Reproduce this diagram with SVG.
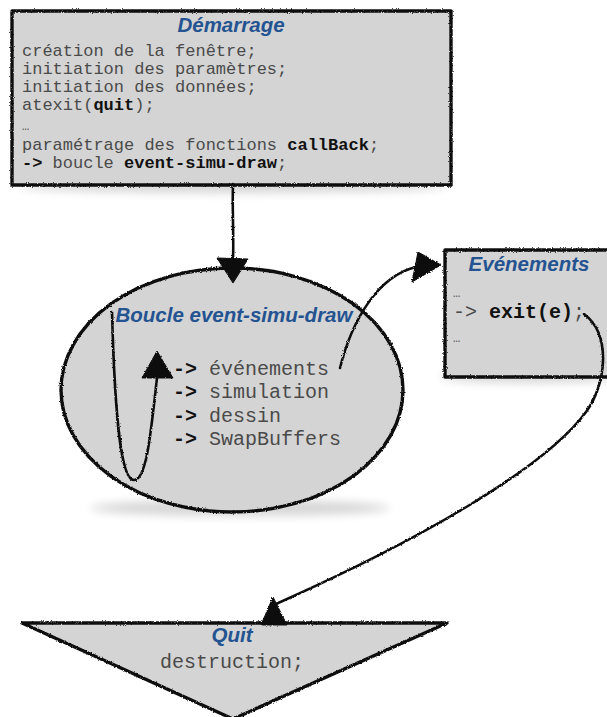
<svg xmlns="http://www.w3.org/2000/svg" width="607" height="717" viewBox="0 0 607 717">
  <defs>
    <!-- hand-drawn look for outlines and connectors -->
    <filter id="rough" filterUnits="userSpaceOnUse" x="0" y="0" width="607" height="717">
      <feTurbulence type="fractalNoise" baseFrequency="0.8" numOctaves="2" seed="3" result="n"/>
      <feDisplacementMap in="SourceGraphic" in2="n" scale="2.6" xChannelSelector="R" yChannelSelector="G"/>
    </filter>
    <filter id="soft" x="-20%" y="-200%" width="140%" height="500%">
      <feGaussianBlur stdDeviation="5"/>
    </filter>
  </defs>
  <style>
    .shape { fill:#d4d4d4; stroke:#111; stroke-width:3.4; stroke-linejoin:round; filter:url(#rough); }
    .shadow { fill:#000; opacity:0.16; filter:url(#soft); }
    .title { font-family:"Liberation Sans", Arial, sans-serif; font-weight:bold; font-style:italic; font-size:20.5px; fill:#245391; text-anchor:middle; }
    .code { font-family:"Liberation Mono", "Courier New", monospace; fill:#4a4a4a; }
    .sm { font-size:17px; }
    .lg { font-size:20px; }
    .b { font-weight:bold; fill:#111; }
    .dots { font-size:12px; fill:#555; }
    .edge { fill:none; stroke:#111; stroke-width:2.6; stroke-linecap:round; filter:url(#rough); }
    .head { fill:#111; stroke:#111; stroke-width:1; stroke-linejoin:round; filter:url(#rough); }
  </style>

  <rect width="607" height="717" fill="#fff"/>

  <!-- start-up block -->
  <g id="demarrage">
    <ellipse class="shadow" cx="232" cy="186" rx="215" ry="7"/>
    <rect class="shape" x="12" y="11" width="439" height="174"/>
    <text class="title" x="231" y="32">Démarrage</text>
    <g class="code sm">
      <text x="22" y="56">création de la fenêtre;</text>
      <text x="22" y="74">initiation des paramètres;</text>
      <text x="22" y="92">initiation des données;</text>
      <text x="22" y="110">atexit(<tspan class="b">quit</tspan>);</text>
      <text class="dots" x="22" y="130">…</text>
      <text x="22" y="150">paramétrage des fonctions <tspan class="b">callBack</tspan>;</text>
      <text x="22" y="168"><tspan class="b">-&gt;</tspan> boucle <tspan class="b">event-simu-draw</tspan>;</text>
    </g>
  </g>

  <!-- main loop -->
  <g id="boucle">
    <ellipse class="shadow" cx="240" cy="508" rx="150" ry="8"/>
    <ellipse class="shape" cx="232" cy="390" rx="171" ry="122"/>
    <text class="title" x="234" y="322">Boucle event-simu-draw</text>
    <g class="code lg">
      <text x="173" y="375"><tspan class="b">-&gt;</tspan> événements</text>
      <text x="173" y="398"><tspan class="b">-&gt;</tspan> simulation</text>
      <text x="173" y="422"><tspan class="b">-&gt;</tspan> dessin</text>
      <text x="173" y="445"><tspan class="b">-&gt;</tspan> SwapBuffers</text>
    </g>
  </g>

  <!-- event handler -->
  <g id="evenements">
    <ellipse class="shadow" cx="530" cy="377" rx="90" ry="6"/>
    <rect class="shape" x="445" y="250" width="175" height="127"/>
    <text class="title" x="529" y="271">Evénements</text>
    <g class="code lg">
      <text class="dots" x="453" y="297">…</text>
      <text x="453" y="318">-&gt; <tspan class="b">exit(e)</tspan>;</text>
      <text class="dots" x="453" y="342">…</text>
    </g>
  </g>

  <!-- exit -->
  <g id="quit">
    <polygon class="shape" points="22,623 447,623 233,719"/>
    <text class="title" x="232" y="642">Quit</text>
    <text class="code lg" x="160" y="668">destruction;</text>
  </g>

  <!-- connectors -->
  <g id="connectors">
    <!-- start-up to loop -->
    <path class="edge" d="M233,184 C232,210 234,235 233,260"/>
    <polygon class="head" points="217,258 248,259 233,283"/>
    <!-- loop back inside the main loop -->
    <path class="edge" d="M112,312 C115,420 121,480 134,480 C147,480 151,430 157,378" stroke-width="2.2"/>
    <polygon class="head" points="157,351 142,378 173,378"/>
    <!-- loop to event handler -->
    <path class="edge" d="M340,368 C352,320 378,276 416,267"/>
    <polygon class="head" points="418,252 412,282 441,265"/>
    <!-- exit(e) to quit -->
    <path class="edge" d="M584,314 C612,335 606,385 586,412 C545,468 420,540 276,604" stroke-width="2.3"/>
    <polygon class="head" points="273,597 261,625 287,625"/>
  </g>
</svg>
